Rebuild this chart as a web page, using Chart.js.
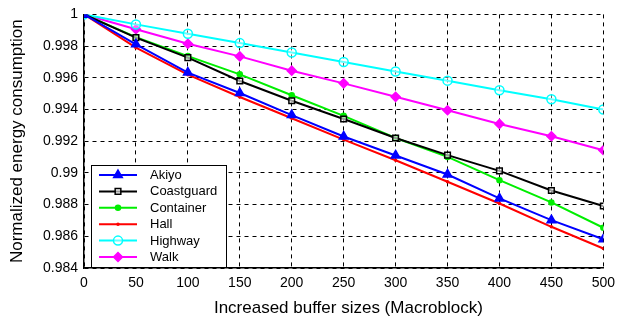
<!DOCTYPE html>
<html lang="en">
<head>
  <meta charset="UTF-8">
  <title>Normalized energy consumption</title>
  <script src="https://cdn.jsdelivr.net/npm/chart.js"></script>
  <style>
    html, body { margin: 0; padding: 0; background: #fff; }
    #wrap { width: 622px; height: 324px; }
  </style>
</head>
<body>
  <div id="wrap"><canvas id="energyChart" width="622" height="324"></canvas></div>

  <script>
    const bufferSizes = [0, 50, 100, 150, 200, 250, 300, 350, 400, 450, 500];
    const akiyo      = [1, 0.99811, 0.99633, 0.99504, 0.99365, 0.99230, 0.99110, 0.98990, 0.98839, 0.98702, 0.98581];
    const coastguard = [1, 0.99853, 0.99727, 0.99580, 0.99455, 0.99340, 0.99220, 0.99112, 0.99013, 0.98889, 0.98791];
    const container  = [1, 0.99857, 0.99737, 0.99622, 0.99490, 0.99360, 0.99220, 0.99101, 0.98954, 0.98814, 0.98654];
    const hall       = [1, 0.99790, 0.99620, 0.99479, 0.99345, 0.99210, 0.99080, 0.98944, 0.98807, 0.98660, 0.98523];
    const highway    = [1, 0.99937, 0.99878, 0.99819, 0.99760, 0.99700, 0.99640, 0.99582, 0.99521, 0.99465, 0.99400];
    const walk       = [1, 0.99906, 0.99815, 0.99735, 0.99645, 0.99565, 0.99480, 0.99395, 0.99309, 0.99231, 0.99143];
    const yTicks = [0.984, 0.986, 0.988, 0.99, 0.992, 0.994, 0.996, 0.998, 1];

    const FONT = '"Liberation Sans", Arial, Helvetica, sans-serif';

    function series(label, values, color, style, radius, fill) {
      return {
        label: label,
        data: values.map((v, i) => ({ x: bufferSizes[i], y: v })),
        borderColor: color,
        backgroundColor: fill,
        pointBackgroundColor: fill,
        pointBorderColor: color,
        pointStyle: style,
        pointRadius: radius,
        pointBorderWidth: 1.5,
        borderWidth: 2,
        tension: 0
      };
    }

    const datasets = [
      series('Akiyo', akiyo, '#0000ff', 'triangle', 5, '#0000ff'),
      series('Coastguard', coastguard, '#000000', 'rect', 4, 'rgba(255,255,255,0.6)'),
      series('Container', container, '#00ee00', 'circle', 2.5, '#00ee00'),
      series('Hall', hall, '#ff0000', 'circle', 1, '#ff0000'),
      series('Highway', highway, '#00ffff', 'circle', 4.5, 'rgba(255,255,255,0.4)'),
      series('Walk', walk, '#ff00ff', 'rectRot', 4.5, '#ff00ff')
    ];

    // legend drawn inside the plot, lower left, like the original figure
    const boxLegend = {
      id: 'boxLegend',
      afterDraw(chart) {
        const ctx = chart.ctx;
        const left = 91, top = 165, w = 135, h = 102;
        ctx.save();
        ctx.fillStyle = '#fff';
        ctx.fillRect(left, top, w, h);
        ctx.strokeStyle = '#000';
        ctx.lineWidth = 1;
        ctx.setLineDash([]);
        ctx.strokeRect(left + 0.5, top + 0.5, w, h);
        chart.data.datasets.forEach((ds, i) => {
          const y = top + 10 + i * 16.4;
          ctx.strokeStyle = ds.borderColor;
          ctx.lineWidth = 2;
          ctx.beginPath();
          ctx.moveTo(left + 8, y);
          ctx.lineTo(left + 46, y);
          ctx.stroke();
          ctx.fillStyle = ds.pointBackgroundColor;
          ctx.strokeStyle = ds.pointBorderColor;
          ctx.lineWidth = ds.pointBorderWidth;
          Chart.helpers.drawPoint(ctx, { pointStyle: ds.pointStyle, radius: ds.pointRadius, rotation: 0, borderWidth: ds.pointBorderWidth }, left + 27, y);
          ctx.fillStyle = '#000';
          ctx.font = '13px ' + FONT;
          ctx.textBaseline = 'middle';
          ctx.fillText(ds.label, left + 59, y + 0.5);
        });
        ctx.restore();
      }
    };

    new Chart(document.getElementById('energyChart'), {
      type: 'line',
      data: { datasets: datasets },
      options: {
        responsive: false,
        animation: false,
        layout: { padding: { top: 14, right: 17, left: 0, bottom: 0 } },
        plugins: { legend: { display: false }, tooltip: { enabled: false } },
        scales: {
          x: {
            type: 'linear',
            min: 0, max: 500,
            afterFit: s => { s.height = 56; },
            afterBuildTicks: s => { s.ticks = bufferSizes.map(v => ({ value: v })); },
            grid: { color: '#000', drawTicks: false, lineWidth: 1 },
            border: { display: true, color: '#000', width: 1.5, dash: [4, 4] },
            ticks: { color: '#000', font: { size: 14, family: FONT }, padding: 7, maxRotation: 0 },
            title: { display: true, text: '  Increased buffer sizes (Macroblock)', color: '#000', font: { size: 17, family: FONT }, padding: { top: 0, bottom: 5 } }
          },
          y: {
            type: 'linear',
            min: 0.984, max: 1,
            afterFit: s => { s.width = 84; },
            afterBuildTicks: s => { s.ticks = yTicks.map(v => ({ value: v })); },
            grid: { color: '#000', drawTicks: false, lineWidth: 1 },
            border: { display: true, color: '#000', width: 1.5, dash: [4, 4] },
            ticks: { color: '#000', font: { size: 14, family: FONT }, padding: 6, callback: v => String(+v.toFixed(3)) },
            title: { display: true, text: 'Normalized energy consumption', color: '#000', font: { size: 17, family: FONT }, padding: { top: 7, bottom: 0 } }
          }
        }
      },
      plugins: [boxLegend]
    });
  </script>
</body>
</html>
